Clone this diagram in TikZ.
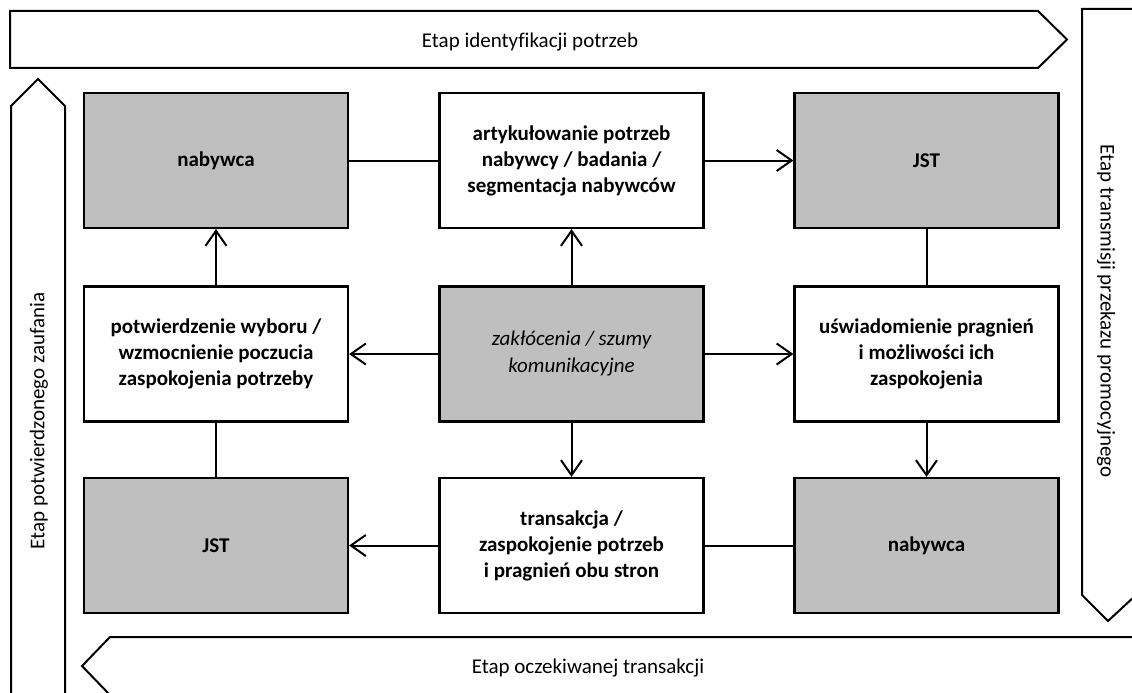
\documentclass[tikz,border=0pt]{standalone}
\usepackage{fontspec}
\setmainfont{Carlito}[Ligatures=NoCommon]
\usetikzlibrary{arrows.meta}
\definecolor{boxgray}{RGB}{191,191,191}
\begin{document}
\begin{tikzpicture}[x=1pt,y=-1pt,
  box/.style={draw, line width=2.2pt, fill=white, minimum width=264pt, minimum height=135pt,
    inner sep=0pt, align=center, font=\fontsize{21}{26}\selectfont\bfseries},
  gbox/.style={box, fill=boxgray},
  conn/.style={line width=2pt},
  arr/.style={conn, -{Straight Barb[length=15pt,width=21pt]}},
  band/.style={draw, line width=2pt, fill=white, line join=miter},
  lbl/.style={font=\fontsize{21}{26}\selectfont, inner sep=0pt}]
\useasboundingbox (0,0) rectangle (1132,693);
\clip (0,0) rectangle (1132,693);

% stage bands
\draw[band] (10,11) -- (1038,11) -- (1067,39.5) -- (1038,68) -- (10,68) -- cycle;
\draw[band] (1082,9) -- (1136,9) -- (1136,595) -- (1108,621) -- (1082,595) -- cycle;
\draw[band] (1140,637) -- (110,637) -- (82,666) -- (110,695) -- (1140,695) -- cycle;
\draw[band] (11,700) -- (11,106) -- (38,79) -- (65,106) -- (65,700) -- cycle;

\node[lbl] (t1) at (530,42) {Etap identyfikacji potrzeb};
\node[lbl, rotate=-90] (t2) at (1106,311) {Etap transmisji przekazu promocyjnego};
\node[lbl] (t4) at (588,668) {Etap oczekiwanej transakcji};
\node[lbl, rotate=90] (t3) at (39,421) {Etap potwierdzonego zaufania};

% boxes
\node[gbox] (nab1) at (216,160.5) {nabywca};
\node[box] (art) at (571.5,160.5) {artykułowanie potrzeb\\nabywcy / badania /\\segmentacja nabywców};
\node[gbox] (jst1) at (926.5,160.5) {JST};
\node[box] (potw) at (216,354) {potwierdzenie wyboru /\\wzmocnienie poczucia\\zaspokojenia potrzeby};
\node[gbox, font=\fontsize{21}{27}\selectfont\itshape] (zak) at (571.5,354) {zakłócenia / szumy\\komunikacyjne};
\node[box] (usw) at (926.5,354) {uświadomienie pragnień\\i możliwości ich\\zaspokojenia};
\node[gbox] (jst2) at (216,545.5) {JST};
\node[box] (trans) at (571.5,545.5) {transakcja /\\zaspokojenie potrzeb\\i pragnień obu stron};
\node[gbox] (nab2) at (926.5,545.5) {nabywca};

% connectors
\draw[conn] (nab1) -- (art);
\draw[arr] (art) -- (jst1);
\draw[conn] (jst1) -- (usw);
\draw[arr] (usw) -- (nab2);
\draw[conn] (nab2) -- (trans);
\draw[arr] (trans) -- (jst2);
\draw[conn] (jst2) -- (potw);
\draw[arr] (potw) -- (nab1);
\draw[arr] (zak) -- (art);
\draw[arr] (zak) -- (potw);
\draw[arr] (zak) -- (usw);
\draw[arr] (zak) -- (trans);
\end{tikzpicture}
\end{document}
